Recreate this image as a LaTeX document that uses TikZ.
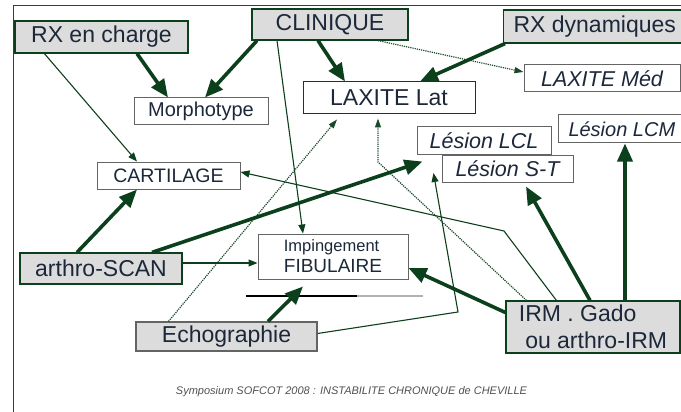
\documentclass[tikz,border=0pt]{standalone}
\usepackage{fontspec}
\setmainfont{Liberation Sans}
\usepackage{tikz}
\usetikzlibrary{arrows.meta,positioning,calc}
\definecolor{darkgreen}{RGB}{12,64,28}
\definecolor{boxgray}{RGB}{220,220,220}
\definecolor{inkblue}{RGB}{28,40,58}
\definecolor{edgegray}{RGB}{100,100,100}

\begin{document}
\begin{tikzpicture}[x=1pt, y=-1pt,
    exam/.style={rectangle, draw=darkgreen, fill=boxgray, line width=1.2pt, inner sep=0pt, text=inkblue, font=\fontsize{23}{27}\selectfont},
    result/.style={rectangle, draw=edgegray, fill=white, line width=1pt, inner sep=0pt, text=inkblue, font=\fontsize{20}{21}\selectfont},
    bigarr/.style={-{Triangle[length=18pt,width=15pt]}, line width=3.6pt, darkgreen},
    thinarr/.style={-{Triangle[length=9pt,width=7pt]}, line width=1.1pt, darkgreen},
    dotarr/.style={-{Triangle[length=9pt,width=6pt]}, densely dotted, line width=1.2pt, darkgreen!85!gray},
]
\useasboundingbox (0,0) rectangle (681,412);
\clip (0,0) rectangle (681,412);

% frame
\draw[edgegray!60!black, line width=1pt] (13,412) -- (13,6) -- (681,6);

% exams
\node[exam, minimum width=173pt, minimum height=32pt] (rxcharge) at (101.5,37) {RX en charge};
\node[exam, minimum width=156pt, minimum height=31pt] (clinique) at (330,24.5) {CLINIQUE};
\node[exam, anchor=west, inner xsep=10pt, minimum height=33pt] (rxdyn) at (503,26.5) {RX dynamiques};
\node[exam, minimum width=162pt, minimum height=31pt] (scan) at (101,268.5) {arthro-SCAN};
\node[exam, draw=edgegray, minimum width=181pt, minimum height=29pt] (echo) at (226.5,336.5) {Echographie};
\node[exam, align=left, minimum width=174pt, minimum height=52pt] (irm) at (593,327) {IRM . Gado\\\ ou arthro-IRM};

% results
\node[result, minimum width=134pt, minimum height=27pt] (morpho) at (201,111.5) {Morphotype};
\node[result, draw=darkgreen, font=\fontsize{23}{25}\selectfont, minimum width=172pt, minimum height=32pt] (laxlat) at (389,98) {LAXITE Lat};
\node[result, font=\fontsize{21.5}{23}\itshape, minimum width=156pt, minimum height=27pt] (laxmed) at (602,78.5) {LAXITE Méd};
\node[result, font=\fontsize{21.5}{23}\itshape, minimum width=134pt, minimum height=27pt] (lcl) at (484,140.5) {Lésion LCL};
\node[result, font=\fontsize{21.5}{23}\itshape, anchor=north west, minimum width=131pt, minimum height=27pt] (st) at ([xshift=25pt]lcl.south west) {Lésion S-T};
\node[result, font=\fontsize{20}{22}\itshape, anchor=west, inner xsep=10pt, minimum height=28pt] (lcm) at (558,129) {Lésion LCM};
\node[result, font=\fontsize{19.5}{21}\selectfont, minimum width=143pt, minimum height=27pt] (cart) at (168.5,175.5) {CARTILAGE};
\node[result, font=\fontsize{19}{21}\selectfont, align=left, minimum width=150pt, minimum height=45pt] (imping) at (333,256.5) {{\fontsize{16.5}{21}\selectfont Impingement}\\FIBULAIRE};

\node[font=\fontsize{11}{13}\itshape, text=edgegray!80!black] (caption) at (351.5,392) {Symposium SOFCOT 2008 : INSTABILITE CHRONIQUE de CHEVILLE};

% bends
\coordinate (irmbenda) at (378,162);
\coordinate (irmbendb) at (504,231);
\coordinate (echobend) at (458,312);
\coordinate (rulea) at (246,296);
\coordinate (ruleb) at (357,296);
\coordinate (rulec) at (423,296);

\draw[black, line width=1.2pt] (rulea) -- (ruleb);
\draw[gray!60, line width=1.2pt] (ruleb) -- (rulec);

% connectors
\draw[bigarr] ([xshift=35.5pt]rxcharge.south) -- ([xshift=-33pt]morpho.north);
\draw[bigarr] ([xshift=-73pt]clinique.south) -- ([xshift=4pt]morpho.north);
\draw[bigarr] ([xshift=-12pt]clinique.south) -- ([xshift=-44pt]laxlat.north);
\draw[dotarr] ([xshift=48pt]clinique.south) -- ([yshift=6.5pt]laxmed.west);
\draw[bigarr] ([xshift=2pt]rxdyn.south west) -- ([xshift=31pt]laxlat.north);
\draw[thinarr] ([xshift=30pt]rxcharge.south west) -- ([xshift=-31.5pt]cart.north);
\draw[thinarr] ([xshift=-53pt]clinique.south) -- ([xshift=-30pt]imping.north);
\draw[dotarr] ([xshift=-58pt]echo.north) -- ([xshift=-52pt,yshift=-5pt]laxlat.south);
\draw[dotarr] ([xshift=21pt]irm.north west) -- (irmbenda) -- ([xshift=-11pt,yshift=-4pt]laxlat.south);
\draw[bigarr] ([xshift=51pt]scan.north) -- ([xshift=6pt,yshift=-7pt]lcl.south west);
\draw[thinarr] ([yshift=5.5pt]scan.east) -- ([yshift=-6.5pt]imping.west);
\draw[bigarr] ([xshift=-24pt]scan.north) -- ([xshift=-31.5pt]cart.south);
\draw[thinarr] ([xshift=51pt]irm.north west) -- (irmbendb) -- ([yshift=3.5pt]cart.east);
\draw[thinarr] ([yshift=3pt]echo.east) -- (echobend) -- ([xshift=-8pt,yshift=-4.5pt]st.west);
\draw[bigarr] ([xshift=41.5pt]echo.north) -- ([xshift=-30pt,yshift=-7pt]imping.south);
\draw[bigarr] ([yshift=14.5pt]irm.west) -- ([yshift=-11.5pt]imping.east);
\draw[bigarr] ([xshift=-3pt]irm.north) -- ([xshift=18.5pt,yshift=-4pt]st.south);
\draw[bigarr] ([xshift=32pt]irm.north) -- ([xshift=32pt]irm.north |- lcm.south);
\end{tikzpicture}
\end{document}
